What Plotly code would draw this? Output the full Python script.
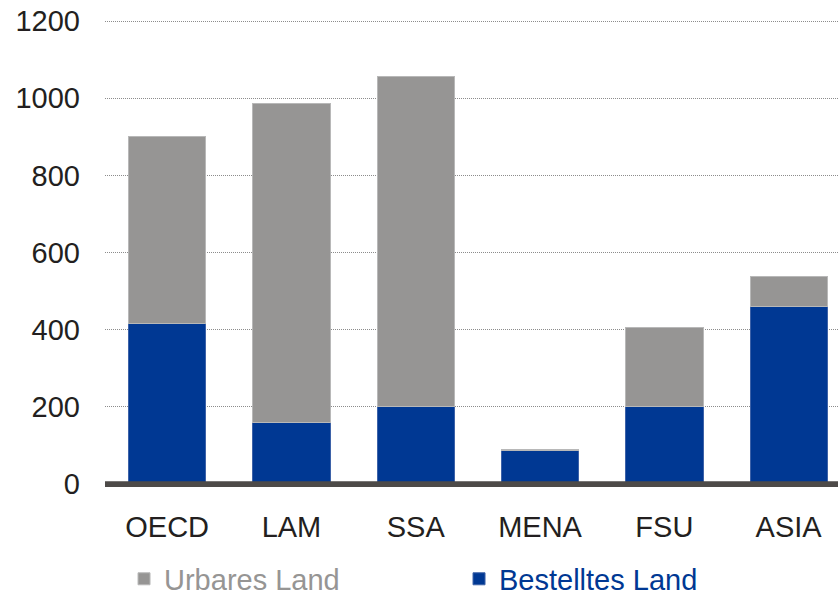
import plotly.graph_objects as go

categories = ["OECD", "LAM", "SSA", "MENA", "FSU", "ASIA"]
bestelltes_land = [415, 161, 202, 86, 200, 460]
urbares_land_extra = [485, 824, 853, 4, 207, 77]
y_ticks = [0, 200, 400, 600, 800, 1000, 1200]

GRAY = "#969594"
BLUE = "#003893"
TEXT = "#231f20"

fig = go.Figure()
fig.add_trace(go.Bar(
    x=categories, y=bestelltes_land,
    name=f"<span style='color:{BLUE}'>Bestelltes Land</span>",
    marker=dict(color=BLUE, line=dict(color="#3d62a8", width=1)),
    legendrank=2,
))
fig.add_trace(go.Bar(
    x=categories, y=urbares_land_extra,
    name=f"<span style='color:{GRAY}'>Urbares Land</span>",
    marker=dict(color=GRAY, line=dict(color="#b8b8b8", width=1)),
    legendrank=1,
))

fig.add_shape(type="line", xref="paper", yref="y", x0=0, x1=1, y0=0, y1=0,
              line=dict(color="#4d4a48", width=5.6), layer="above")

fig.update_layout(
    width=838, height=595,
    barmode="stack", bargap=0.378,
    margin=dict(l=105, r=0, t=0, b=107, autoexpand=False),
    paper_bgcolor="white", plot_bgcolor="white",
    font=dict(family="Liberation Sans, Arial, sans-serif", size=29, color=TEXT),
    showlegend=True,
    legend=dict(
        orientation="h", xref="container", yref="container",
        x=0.148, y=0.027, xanchor="left", yanchor="middle",
        entrywidth=290, entrywidthmode="pixels",
        font=dict(size=29), traceorder="normal",
        bgcolor="rgba(0,0,0,0)", borderwidth=0,
    ),
    xaxis=dict(
        range=[-0.5, 5.397], showgrid=False, zeroline=False,
        showline=False, ticks="", ticklabelstandoff=19,
        tickfont=dict(size=29, color=TEXT),
    ),
    yaxis=dict(
        range=[-10, 1254.4], tickvals=y_ticks,
        showgrid=True, gridcolor="#8c8c8c", gridwidth=1, griddash="1px,1px",
        zeroline=False, showline=False, ticks="",
        ticklabelstandoff=24,
        tickfont=dict(size=29, color=TEXT),
    ),
)

fig.write_html("out.html")
